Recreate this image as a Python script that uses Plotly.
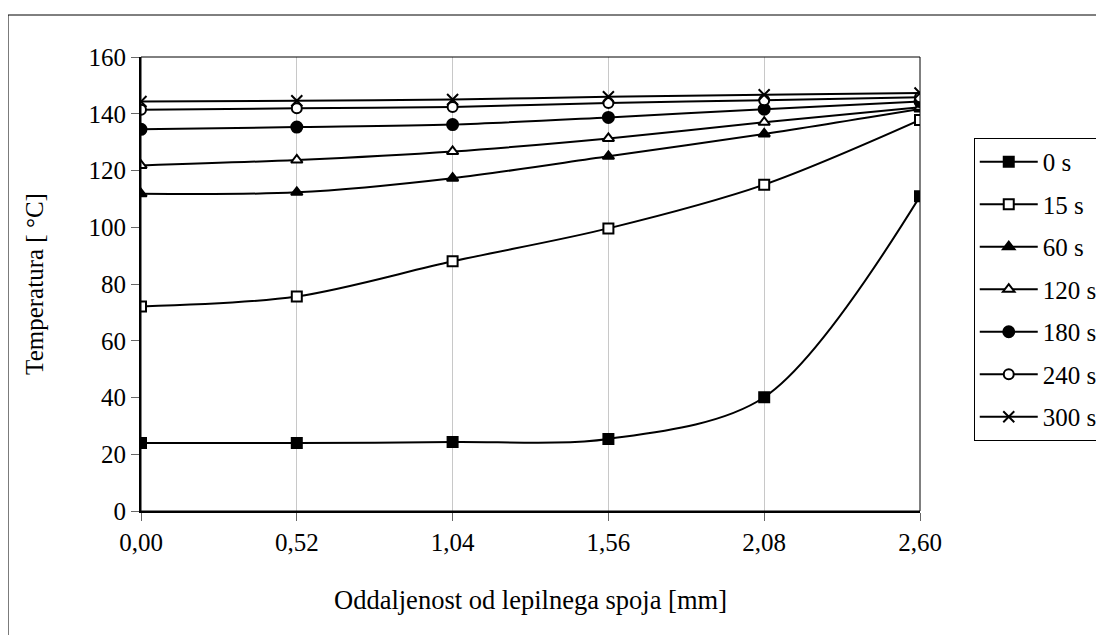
import plotly.graph_objects as go

x_vals = [0.00, 0.52, 1.04, 1.56, 2.08, 2.60]
x_labels = ["0,00", "0,52", "1,04", "1,56", "2,08", "2,60"]

t0 = [24.0, 24.0, 24.3, 25.4, 40.1, 110.9]
t15 = [72.1, 75.6, 88.0, 99.6, 115.0, 137.8]
t60 = [111.8, 112.3, 117.3, 125.0, 132.9, 141.7]
t120 = [121.8, 123.7, 126.7, 131.3, 137.0, 142.3]
t180 = [134.5, 135.3, 136.2, 138.7, 141.6, 144.3]
t240 = [141.4, 141.9, 142.4, 143.8, 144.8, 145.8]
t300 = [144.3, 144.6, 145.0, 146.0, 146.7, 147.3]

series = [
    ("0 s", t0, "square", "black", 10),
    ("15 s", t15, "square", "white", 10),
    ("60 s", t60, "triangle-up", "black", 10),
    ("120 s", t120, "triangle-up", "white", 10),
    ("180 s", t180, "circle", "black", 11),
    ("240 s", t240, "circle", "white", 10),
    ("300 s", t300, "x-thin", "black", 11),
]

FONT = "Liberation Serif"

fig = go.Figure()
for name, vals, sym, fill, size in series:
    fig.add_trace(go.Scatter(
        x=x_vals, y=vals, name=name, legendgroup=name,
        mode="lines+markers",
        line=dict(color="black", width=2, shape="spline", smoothing=0.9),
        marker=dict(symbol=sym, color=fill, size=size,
                    line=dict(color="black", width=2)),
    ))

# page is offset by 8px body margin: plot area target 141..920 x, 57..511 y
fig.update_layout(
    width=1096, height=627,
    margin=dict(l=133, r=184, t=49, b=124, autoexpand=False),
    paper_bgcolor="white", plot_bgcolor="white",
    font=dict(family=FONT, size=25, color="black"),
    showlegend=True,
    legend=dict(
        x=1.069, y=0.8216, xanchor="left", yanchor="top",
        bordercolor="black", borderwidth=1, bgcolor="white",
        font=dict(family=FONT, size=25, color="black"),
        itemwidth=58, tracegroupgap=7,
    ),
    xaxis=dict(
        range=[0, 2.6], tickvals=x_vals, ticktext=x_labels,
        showgrid=True, gridcolor="#c8c8c8", gridwidth=1,
        showline=True, linecolor="black", linewidth=2,
        ticks="outside", ticklen=8, tickcolor="#666666",
        zeroline=False,
        title=dict(text="Oddaljenost od lepilnega spoja [mm]", standoff=35,
                   font=dict(family=FONT, size=26.5)),
        tickfont=dict(family=FONT, size=25),
    ),
    yaxis=dict(
        range=[0, 160], dtick=20, tick0=0,
        showgrid=False,
        showline=True, linecolor="black", linewidth=2,
        ticks="outside", ticklen=8, tickcolor="#666666",
        zeroline=False,
        title=dict(text="Temperatura [ °C]", standoff=38,
                   font=dict(family=FONT, size=25)),
        tickfont=dict(family=FONT, size=25),
    ),
    shapes=[
        dict(type="rect", xref="paper", yref="paper", x0=0, x1=1, y0=0, y1=1,
             line=dict(color="black", width=1), layer="above"),
        dict(type="rect", xref="paper", yref="paper", x0=-0.1707, x1=1.4,
             y0=-0.4, y1=1.0925, line=dict(color="black", width=1), layer="below"),
    ],
)

fig.write_html("out.html")
